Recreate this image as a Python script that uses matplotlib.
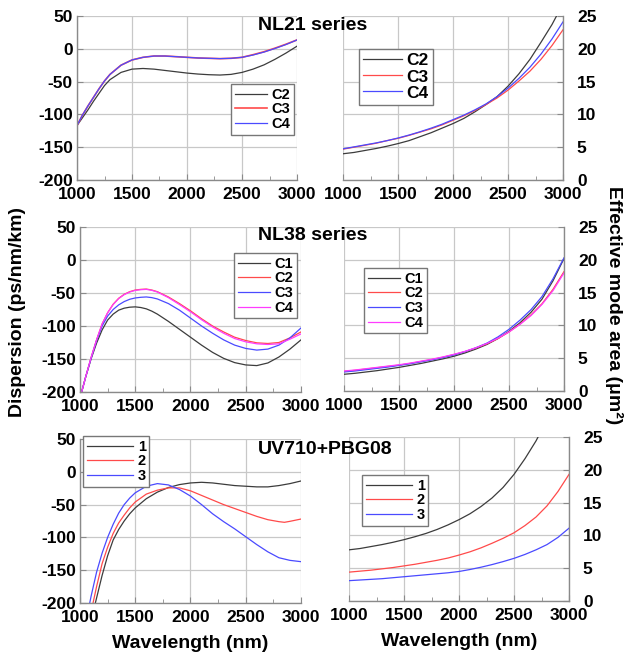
import numpy as np
import matplotlib
matplotlib.use("Agg")
import matplotlib.pyplot as plt
from matplotlib.ticker import MultipleLocator

plt.rcParams['font.family'] = ['Liberation Sans', 'DejaVu Sans']
plt.rcParams['font.weight'] = 'bold'
plt.rcParams['axes.unicode_minus'] = False

W, H = 628, 656

# ---- data ----
wl = [1000, 1100, 1200, 1300, 1400, 1500, 1600, 1700, 1800, 1900, 2000,
      2100, 2200, 2300, 2400, 2500, 2600, 2700, 2800, 2900, 3000]

# NL21 series
nl21_wl_d = [1000, 1050, 1100, 1150, 1200, 1250, 1300, 1400, 1500, 1600, 1700, 1800,
             1900, 2000, 2100, 2200, 2300, 2400, 2500, 2600, 2700, 2800, 2900, 3000]
nl21_disp_c2 = [-117, -105, -93, -80, -68, -56, -47, -36, -31, -30, -31, -33,
                -35, -37, -38.5, -39.5, -40, -39, -36, -31, -24.5, -16, -6.5, 4]
nl21_disp_c3 = [-117, -101, -87, -74, -61, -49, -39, -25, -17, -13, -11, -11,
                -12, -13, -14, -14.5, -15, -14.5, -13, -9, -4.5, 1, 7, 13.5]
nl21_disp_c4 = [-117, -101, -87, -74, -61, -49, -39, -25, -17, -13, -11, -11,
                -12, -13, -14, -14.5, -15, -14.5, -13, -9.5, -5, 0.5, 6.5, 13.5]
nl21_wl_c2a = wl[:20] + [2960]
nl21_area_c2 = [4.0, 4.2, 4.5, 4.8, 5.15, 5.55, 6.0, 6.6, 7.2, 7.9, 8.6,
                9.4, 10.4, 11.5, 12.7, 14.3, 16.2, 18.4, 21.0, 23.7, 25.6]
nl21_area_c3 = [4.7, 5.0, 5.3, 5.6, 6.0, 6.35, 6.8, 7.3, 7.8, 8.4, 9.1,
                9.8, 10.6, 11.5, 12.5, 13.7, 15.1, 16.6, 18.4, 20.5, 22.9]
nl21_area_c4 = [4.75, 5.05, 5.35, 5.65, 6.0, 6.4, 6.85, 7.35, 7.9, 8.5, 9.2,
                9.9, 10.7, 11.6, 12.7, 14.0, 15.5, 17.2, 19.2, 21.5, 24.1]

# NL38 series
nl38_wl_d = [1015, 1050, 1100, 1150, 1200, 1250, 1300, 1350, 1400, 1450, 1500, 1550,
             1600, 1650, 1700, 1800, 1900, 2000, 2100, 2200, 2300, 2400, 2500, 2600,
             2700, 2800, 2900, 3000]
nl38_disp_c1 = [-200, -178, -150, -126, -106, -91, -82, -76, -73, -71.5, -71, -72,
                -74, -77.5, -82, -93, -105, -117, -129, -140, -149, -155.5, -159, -160,
                -156, -147, -135, -121]
nl38_disp_c2 = [-200, -178, -148, -121, -97, -80, -67, -58, -52, -48, -45.5, -44.5,
                -44, -45.5, -48, -56, -66, -77, -89, -100, -109, -117, -122, -125.5,
                -126.5, -125, -118, -109]
nl38_disp_c3 = [-200, -178, -149, -122, -100, -85, -75, -68, -63, -59.5, -57.5, -56.5,
                -56, -57, -59, -66, -76, -88, -100, -111, -121, -129, -134, -136.5,
                -135, -129, -118, -103]
nl38_disp_c4 = [-200, -178, -148, -121, -97, -80, -67.5, -58.5, -52.5, -48.5, -46, -45,
                -44.5, -46, -48.5, -57, -67.5, -78.5, -90.5, -101.5, -111, -119, -124, -127,
                -128, -127, -120, -112]
nl38_area_c1 = [2.55, 2.7, 2.9, 3.1, 3.35, 3.6, 3.9, 4.2, 4.55, 4.9, 5.3,
                5.8, 6.4, 7.1, 8.0, 9.1, 10.4, 12.0, 14.0, 16.8, 20.2]
nl38_area_c2 = [3.0, 3.15, 3.35, 3.55, 3.75, 3.95, 4.2, 4.5, 4.8, 5.15, 5.55,
                6.0, 6.55, 7.2, 8.0, 9.0, 10.2, 11.6, 13.3, 15.5, 18.2]
nl38_area_c3 = [2.9, 3.05, 3.25, 3.45, 3.65, 3.9, 4.15, 4.45, 4.75, 5.1, 5.5,
                6.0, 6.6, 7.3, 8.25, 9.4, 10.8, 12.4, 14.4, 17.1, 20.3]
nl38_area_c4 = [3.05, 3.2, 3.4, 3.6, 3.8, 4.0, 4.25, 4.55, 4.85, 5.2, 5.6,
                6.05, 6.6, 7.25, 8.05, 9.0, 10.15, 11.5, 13.2, 15.3, 18.0]

# UV710+PBG08
uv_wl_1 = [1139, 1200, 1250, 1300, 1350, 1400, 1450, 1500, 1600, 1700, 1800, 1900, 2000,
           2100, 2200, 2300, 2400, 2500, 2600, 2700, 2800, 2900, 3000]
uv_disp_1 = [-200, -158, -128, -104, -88, -75, -64, -55, -41, -31, -24, -19.5, -17,
             -16, -17, -19, -21, -22, -23, -23, -21, -18, -14]
uv_wl_2 = [1118, 1150, 1200, 1250, 1300, 1350, 1400, 1450, 1500, 1600, 1700, 1800, 1900,
           2000, 2100, 2200, 2300, 2400, 2500, 2600, 2700, 2800, 2850, 2900, 3000]
uv_disp_2 = [-200, -175, -140, -115, -94, -78, -66, -55, -46, -34, -28, -24.5, -24.5,
             -29, -36, -43, -50, -56, -62, -68, -73, -76, -77, -75.5, -72]
uv_wl_3 = [1088, 1100, 1150, 1200, 1250, 1300, 1350, 1400, 1450, 1500, 1600, 1700, 1800,
           1900, 2000, 2100, 2200, 2300, 2400, 2500, 2600, 2700, 2800, 2900, 3000]
uv_disp_3 = [-200, -190, -153, -124, -100, -80, -63, -50, -40, -32, -22, -18, -20,
             -27, -37, -50, -64, -76, -87, -99, -111, -122, -131, -135, -137]
uv_wl_1a = wl[:18] + [2750]
uv_area_1 = [7.8, 8.0, 8.3, 8.6, 8.95, 9.35, 9.8, 10.3, 10.9, 11.6, 12.4,
             13.3, 14.4, 15.7, 17.3, 19.3, 21.7, 24.4, 26.0]
uv_area_2 = [4.4, 4.55, 4.7, 4.9, 5.1, 5.35, 5.6, 5.9, 6.2, 6.55, 7.0,
             7.5, 8.1, 8.8, 9.55, 10.4, 11.5, 12.8, 14.5, 16.7, 19.3]
uv_area_3 = [3.1, 3.2, 3.3, 3.4, 3.55, 3.7, 3.85, 4.0, 4.15, 4.3, 4.5,
             4.8, 5.15, 5.55, 6.0, 6.5, 7.1, 7.8, 8.6, 9.7, 11.1]

titles = ["NL21 series", "NL38 series", "UV710+PBG08"]

K, R, B, M = '#3c3c3c', '#ff4a4a', '#4a4aff', '#ff3cff'

# axes boxes in pixels: x0, y0(top), x1, y1(bottom)
boxes = [
    [(77, 16, 297, 180), (343, 16, 563, 180)],
    [(80, 227, 301, 392), (344, 227, 564, 391)],
    [(80, 439, 301, 603), (349, 437, 569, 601)],
]

fig = plt.figure(figsize=(W / 100, H / 100), dpi=100)


def make_ax(box):
    x0, y0, x1, y1 = box
    return fig.add_axes([x0 / W, 1 - y1 / H, (x1 - x0) / W, (y1 - y0) / H])


def style(ax, right):
    ax.set_xlim(1000, 3000)
    ax.xaxis.set_major_locator(MultipleLocator(500))
    ax.xaxis.set_minor_locator(MultipleLocator(250))
    if right:
        ax.set_ylim(0, 25)
        ax.yaxis.set_major_locator(MultipleLocator(5))
        ax.yaxis.tick_right()
        ax.spines['left'].set_visible(False)
        ax.tick_params(axis='y', pad=10)
    else:
        ax.set_ylim(-200, 50)
        ax.yaxis.set_major_locator(MultipleLocator(50))
        ax.spines['right'].set_visible(False)
        ax.tick_params(axis='y', pad=3)
    ax.spines['top'].set_visible(False)
    for s in ax.spines.values():
        s.set_color('#8a8a8a')
        s.set_linewidth(1.0)
    ax.tick_params(which='both', direction='in', colors='#8a8a8a',
                   labelcolor='black', labelsize=12.5)
    ax.tick_params(which='major', length=4)
    ax.tick_params(which='minor', length=3)
    ax.tick_params(axis='x', pad=5)
    ax.grid(True, which='major', color='#c8c8c8', lw=0.9)
    ax.set_axisbelow(True)
    for lab in ax.get_xticklabels() + ax.get_yticklabels():
        lab.set_fontweight('bold')


def legend(ax, px, py, size, hl=2.2):
    leg = ax.legend(loc='upper left', bbox_to_anchor=(px / W, 1 - py / H),
                    bbox_transform=fig.transFigure, borderaxespad=0,
                    fancybox=False, edgecolor='#777777', framealpha=1,
                    prop={'weight': 'bold', 'size': size}, handlelength=hl,
                    handletextpad=0.3, labelspacing=0.05, borderpad=0.25)
    leg.get_frame().set_linewidth(1.0)


lw = 0.9

# row 1
a = make_ax(boxes[0][0])
a.plot(nl21_wl_d, nl21_disp_c2, color=K, lw=lw, label='C2')
a.plot(nl21_wl_d, nl21_disp_c3, color=R, lw=lw + 0.3, label='C3')
a.plot(nl21_wl_d, nl21_disp_c4, color=B, lw=lw, label='C4')
style(a, False)
legend(a, 231, 84, 10.5)

b = make_ax(boxes[0][1])
b.plot(nl21_wl_c2a, nl21_area_c2, color=K, lw=lw, label='C2')
b.plot(wl, nl21_area_c3, color=R, lw=lw, label='C3')
b.plot(wl, nl21_area_c4, color=B, lw=lw, label='C4')
style(b, True)
legend(b, 359, 49, 12.5)

# row 2
a = make_ax(boxes[1][0])
a.plot(nl38_wl_d, nl38_disp_c1, color=K, lw=lw, label='C1')
a.plot(nl38_wl_d, nl38_disp_c2, color=R, lw=lw, label='C2')
a.plot(nl38_wl_d, nl38_disp_c3, color=B, lw=lw, label='C3')
a.plot(nl38_wl_d, nl38_disp_c4, color=M, lw=lw, label='C4')
style(a, False)
legend(a, 234, 253, 10.5)

b = make_ax(boxes[1][1])
b.plot(wl, nl38_area_c1, color=K, lw=lw, label='C1')
b.plot(wl, nl38_area_c2, color=R, lw=lw, label='C2')
b.plot(wl, nl38_area_c3, color=B, lw=lw, label='C3')
b.plot(wl, nl38_area_c4, color=M, lw=lw, label='C4')
style(b, True)
legend(b, 364, 268, 10.5)

# row 3
a = make_ax(boxes[2][0])
a.plot(uv_wl_1, uv_disp_1, color=K, lw=lw, label='1')
a.plot(uv_wl_2, uv_disp_2, color=R, lw=lw, label='2')
a.plot(uv_wl_3, uv_disp_3, color=B, lw=lw, label='3')
style(a, False)
legend(a, 83, 436, 10.5, hl=3.2)
a.set_xlabel('Wavelength (nm)', fontsize=14, fontweight='bold', labelpad=7)

b = make_ax(boxes[2][1])
b.plot(uv_wl_1a, uv_area_1, color=K, lw=lw, label='1')
b.plot(wl, uv_area_2, color=R, lw=lw, label='2')
b.plot(wl, uv_area_3, color=B, lw=lw, label='3')
style(b, True)
legend(b, 362, 475, 10.5, hl=3.2)
b.set_xlabel('Wavelength (nm)', fontsize=14, fontweight='bold', labelpad=7)

for ax in fig.axes:
    ax.yaxis.get_major_ticks()[-1].gridline.set_visible(False)
    if ax.yaxis.get_ticks_position() == 'right':
        ax.xaxis.get_major_ticks()[0].gridline.set_visible(False)

for t, ty in zip(titles, [25, 236, 449]):
    fig.text(258 / W, 1 - ty / H, t, fontsize=14, fontweight='bold',
             ha='left', va='center')

fig.text(18 / W, 1 - 312 / H, 'Dispersion (ps/nm/km)', rotation=90,
         fontsize=14, fontweight='bold', ha='center', va='center')
fig.text(614 / W, 1 - 305 / H, 'Effective mode area (\u03bcm\u00b2)', rotation=-90,
         fontsize=14, fontweight='bold', ha='center', va='center')

fig.savefig('out.png', dpi=100)
